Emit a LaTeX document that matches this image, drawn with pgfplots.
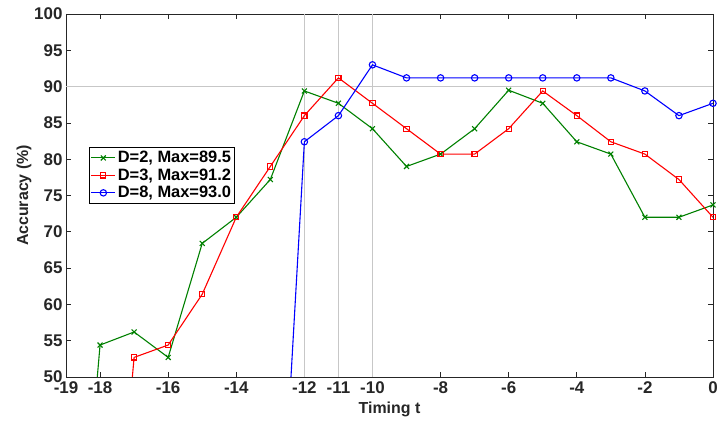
\documentclass[border=0pt]{standalone}
\usepackage{pgfplots}
\pgfplotsset{compat=1.18}
\usepackage{fontspec}
\setmainfont{Liberation Sans}
\definecolor{mgreen}{rgb}{0,0.5,0}
\definecolor{axgray}{gray}{0.15}
\definecolor{grdgray}{gray}{0.78}
\begin{document}
\begin{tikzpicture}
\path[use as bounding box] (0,0) rectangle (718bp,421bp);
\begin{axis}[
  at={(66bp,44bp)}, anchor=south west,
  scale only axis,
  width=647bp, height=363bp,
  xmin=-19, xmax=0, ymin=50, ymax=100,
  xtick={-19,-18,-16,-14,-12,-11,-10,-8,-6,-4,-2,0},
  ytick={50,55,...,100},
  extra x ticks={-12,-11,-10},
  extra x tick labels={},
  extra y ticks={90},
  extra y tick labels={},
  extra tick style={grid=major, major tick length=0pt},
  grid style={grdgray, line width=0.9bp},
  tick align=inside,
  major tick length=5bp,
  tick style={axgray, line width=0.7bp},
  axis line style={axgray, line width=0.9bp},
  /pgf/number format/assume math mode=true,
  ticklabel style={font=\fontsize{17}{18}\selectfont\bfseries, text=axgray},
  xticklabel style={yshift=-1bp},
  xlabel={Timing t},
  ylabel={Accuracy (\%)},
  label style={font=\fontsize{16}{17}\selectfont\bfseries, text=axgray},
  xlabel style={yshift=-2bp},
  ylabel style={yshift=-4bp},
  legend style={
    at={(0.036,0.634)}, anchor=north west,
    draw=black, line width=1.2bp,
    font=\fontsize{16.5}{16.5}\selectfont\bfseries,
    inner xsep=1bp, inner ysep=2bp,
    row sep=0.5bp,
    cells={anchor=west},
  },
  legend image code/.code={%
    \draw[mark repeat=2,mark phase=2,#1] plot coordinates {(0cm,0cm) (0.42cm,0cm) (0.84cm,0cm)};},
  clip=true,
]
\addplot[mgreen, line width=1.1bp, mark=x, mark size=3.5bp, mark options={solid, line width=1.1bp}] coordinates {
(-19,0) (-18,54.4) (-17,56.2) (-16,52.7) (-15,68.4) (-14,72.0) (-13,77.2) (-12,89.4) (-11,87.7) (-10,84.2)
(-9,79.0) (-8,80.7) (-7,84.2) (-6,89.5) (-5,87.7) (-4,82.4) (-3,80.7) (-2,72.0) (-1,72.0) (0,73.7)};
\addlegendentry{D=2, Max=89.5}
\addplot[red, line width=1.1bp, mark=square, mark size=2.6bp, mark options={solid, line width=1.1bp}] coordinates {
(-18,0) (-17,52.7) (-16,54.4) (-15,61.4) (-14,72.0) (-13,79.0) (-12,86.0) (-11,91.2) (-10,87.7)
(-9,84.2) (-8,80.7) (-7,80.7) (-6,84.2) (-5,89.4) (-4,86.0) (-3,82.4) (-2,80.7) (-1,77.2) (0,72.0)};
\addlegendentry{D=3, Max=91.2}
\addplot[blue, line width=1.1bp, mark=o, mark size=3.2bp, mark options={solid, line width=1.1bp}] coordinates {
(-13,0) (-12,82.4) (-11,86.0) (-10,93.0) (-9,91.2) (-8,91.2) (-7,91.2) (-6,91.2) (-5,91.2) (-4,91.2)
(-3,91.2) (-2,89.4) (-1,86.0) (0,87.7)};
\addlegendentry{D=8, Max=93.0}
\end{axis}
\end{tikzpicture}
\end{document}
